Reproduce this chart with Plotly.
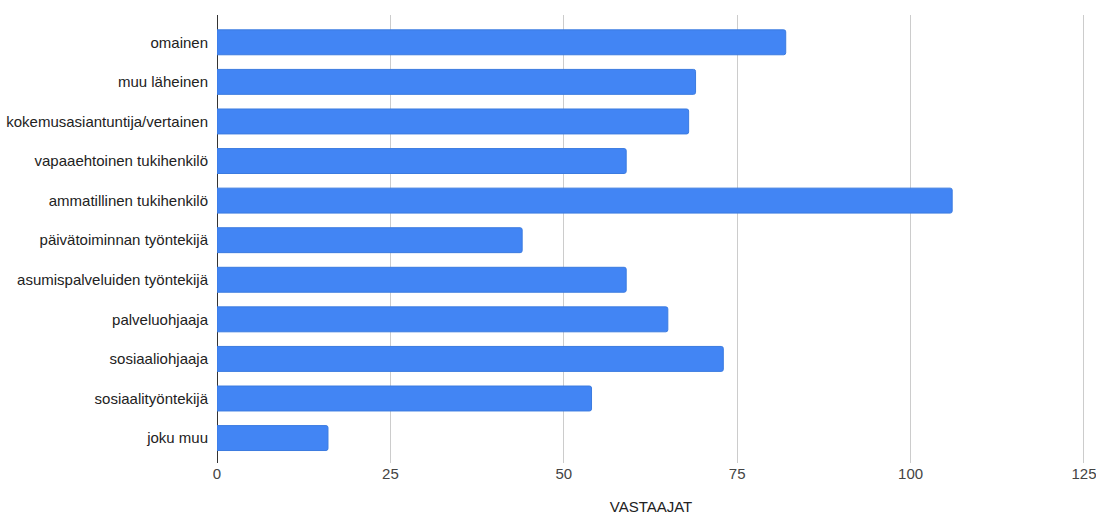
import plotly.graph_objects as go

categories = ["omainen", "muu läheinen", "kokemusasiantuntija/vertainen",
              "vapaaehtoinen tukihenkilö", "ammatillinen tukihenkilö",
              "päivätoiminnan työntekijä", "asumispalveluiden työntekijä",
              "palveluohjaaja", "sosiaaliohjaaja", "sosiaalityöntekijä", "joku muu"]
values = [82, 69, 68, 59, 106, 44, 59, 65, 73, 54, 16]
x_ticks = [0, 25, 50, 75, 100, 125]

fig = go.Figure(go.Bar(
    y=categories, x=values, orientation="h",
    marker=dict(color="#4285F4", line=dict(color="#3b7be0", width=1), cornerradius=2),
))

fig.update_layout(
    width=1096, height=520,
    margin=dict(l=217, r=11, t=15, b=57, autoexpand=False),
    paper_bgcolor="white", plot_bgcolor="white",
    bargap=0.37,
    font=dict(family="Liberation Sans, Arial, sans-serif", size=15, color="#222"),
    showlegend=False,
)
fig.update_xaxes(
    range=[0, 125.15], tickvals=x_ticks, showgrid=True, gridcolor="#cccccc", gridwidth=1,
    zeroline=True, zerolinecolor="#333333", zerolinewidth=1, automargin=False,
    ticklabeloverflow="allow",
    tickfont=dict(color="#444", size=15), ticks="", fixedrange=True,
    title=dict(text="VASTAAJAT", font=dict(size=15, color="#222"), standoff=20),
)
fig.update_yaxes(
    type="category", range=[10.63, -0.69], showgrid=False, ticks="", automargin=False,
    tickfont=dict(color="#222", size=15), ticklabelstandoff=8,
)

fig.write_html("out.html")
